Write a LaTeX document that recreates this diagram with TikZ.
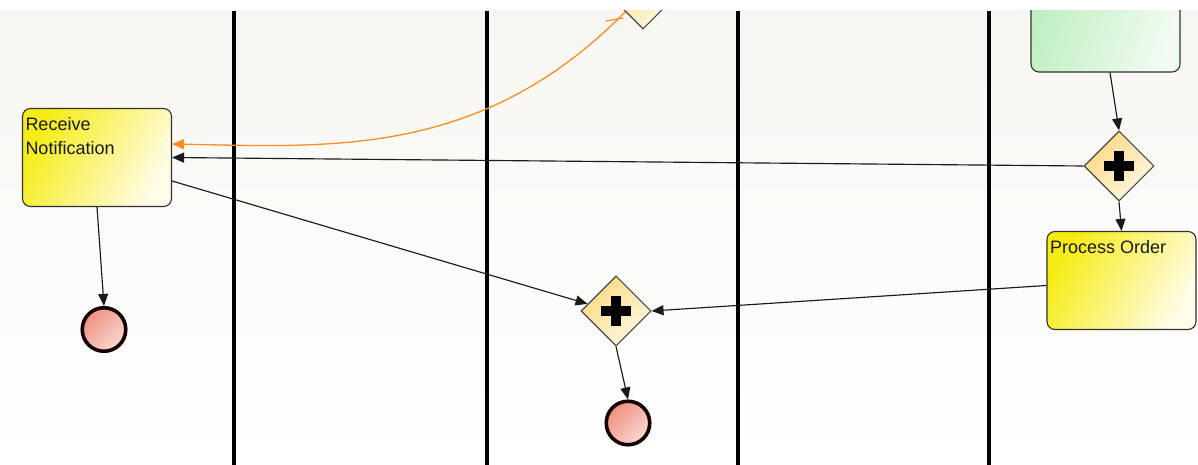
\documentclass[tikz,border=0pt]{standalone}
\usepackage{fontspec}
\setmainfont{Liberation Sans}
\usetikzlibrary{shapes.geometric,arrows.meta,calc}
\definecolor{taskY}{HTML}{F5EC14}
\definecolor{taskW}{HTML}{FFFCE8}
\definecolor{gwY}{HTML}{FCD984}
\definecolor{gwW}{HTML}{FFF8E2}
\definecolor{endR}{HTML}{EE9080}
\definecolor{endW}{HTML}{FAD8D0}
\definecolor{grnG}{HTML}{BEEFC0}
\definecolor{grnW}{HTML}{F2FBF2}
\definecolor{flowO}{HTML}{FF8C1E}
\definecolor{edgeK}{HTML}{1A1A1A}
\definecolor{bgTop}{HTML}{F7F6F2}
\newcommand\tasktext[1]{\parbox[c][98pt][t]{149pt}{\raggedright\leftskip=3pt\vspace*{9pt}#1}}
\tikzset{
  task/.style={draw=edgeK!90, line width=1.1pt, rounded corners=8pt,
    minimum width=149pt, minimum height=98pt, inner sep=0pt,
    left color=taskY, right color=taskW, shading angle=60,
    font=\fontsize{18}{24}\selectfont, text=black!90},
  greentask/.style={task, left color=grnG, right color=grnW, shading angle=70},
  gateway/.style={shape=diamond, aspect=1, draw=edgeK!80, line width=1.1pt,
    minimum width=70pt, minimum height=70pt, inner sep=0pt,
    left color=gwY, right color=gwW, shading angle=45,
    path picture={
      \draw[line width=9.5pt, black]
        ([xshift=-15pt]path picture bounding box.center) -- ([xshift=15pt]path picture bounding box.center);
      \draw[line width=9.5pt, black]
        ([yshift=-15pt]path picture bounding box.center) -- ([yshift=15pt]path picture bounding box.center);
    }},
  endevent/.style={shape=circle, draw=black!92!red, line width=3.6pt,
    minimum size=43.5pt, inner sep=0pt,
    left color=endR, right color=endW, shading angle=45},
  lane/.style={line width=3.6pt, black},
  flow/.style={draw=edgeK, line width=1.15pt, -{Triangle[length=12pt,width=10pt]}},
  defaultflow/.style={draw=flowO, line width=1.3pt, -{Triangle[length=12pt,width=10pt]}},
}
\begin{document}
\begin{tikzpicture}[x=1pt,y=-1pt]
\useasboundingbox (0,0) rectangle (1198,465);
\fill[white] (0,0) rectangle (1198,465);
\begin{scope}
\clip (0,11) rectangle (1198,465);
\fill[top color=bgTop, bottom color=white] (0,11) rectangle (1198,465);
% lanes
\foreach \lx in {234,487,738,989} {
  \draw[lane] (\lx,11) -- (\lx,465);
}
% nodes
\node[task] (RN) at (97,157.5) {\tasktext{Receive\\Notification}};
\node[task] (PO) at (1121.5,280.5) {\tasktext{Process Order}};
\node[greentask] (G) at (1105.5,23) {};
\node[gateway] (g1) at (616,311) {};
\node[gateway] (g2) at (1119,166) {};
\node[gateway] (gT) at (643,-6) {};
\node[endevent] (E1) at (104,329.5) {};
\node[endevent] (E2) at (628,423) {};
% connectors
\draw[flow] ($(G.south)+(4.5,0)$) -- (g2.north);
\draw[flow] (g2.south) -- (PO.north);
\draw[flow] (g2.west) -- (RN.east);
\draw[flow] ($(RN.east)+(0,23.5)$) -- ($(g1.west)!0.2!(g1.north)$);
\draw[flow] ($(PO.west)+(0,5)$) -- (g1.east);
\draw[flow] (RN.south) -- (E1.north);
\draw[flow] (g1.south) -- (E2.north);
\coordinate (oS) at ($(gT.west)!0.5!(gT.south)$);
\coordinate (oE) at ($(RN.east)+(0,-13.5)$);
\draw[defaultflow] (oS) .. controls (482,158) and (330,147) .. (oE);
\draw[draw=flowO, line width=1.3pt] (606,21) -- (623,18);
\end{scope}
\end{tikzpicture}
\end{document}
